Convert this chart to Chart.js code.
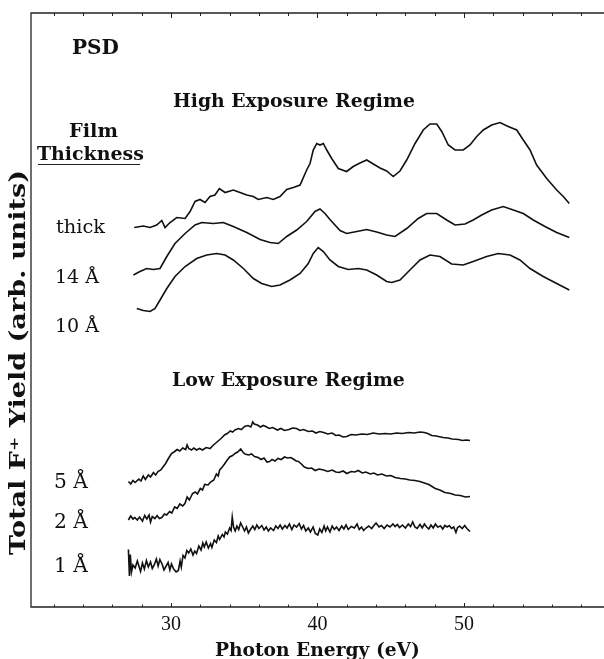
<!DOCTYPE html>
<html>
<head>
<meta charset="utf-8">
<script src="https://cdn.jsdelivr.net/npm/chart.js@4"></script>
<style>
  html, body { margin: 0; padding: 0; background: #fff; }
  #wrap { width: 604px; height: 659px; }
</style>
</head>
<body>
<div id="wrap"><canvas id="myChart" width="604" height="659"></canvas></div>
<script>
// photon energy (eV) and yield (arb. units) for each trace
const thickE = [27.49,28.11,28.57,29.02,29.37,29.59,29.93,30.39,30.96,31.30,31.64,31.98,32.32,32.66,33.00,33.30,33.69,34.25,34.71,35.17,35.62,35.96,36.53,36.98,37.44,37.90,38.35,38.81,39.26,39.49,39.71,39.95,40.17,40.40,40.63,40.97,41.42,41.99,42.44,42.90,43.36,43.81,44.27,44.72,45.17,45.63,46.09,46.66,47.22,47.68,48.14,48.48,48.93,49.39,49.95,50.41,50.87,51.32,51.89,52.46,53.02,53.60,54.05,54.51,54.96,55.65,56.33,56.78,57.19];
const thickY = [7.59,7.62,7.59,7.64,7.73,7.59,7.69,7.79,7.77,7.91,8.11,8.15,8.09,8.21,8.24,8.37,8.29,8.34,8.29,8.24,8.21,8.15,8.19,8.15,8.21,8.35,8.39,8.44,8.74,8.87,9.14,9.27,9.24,9.27,9.14,8.97,8.77,8.71,8.81,8.88,8.94,8.86,8.78,8.72,8.61,8.72,8.94,9.27,9.54,9.66,9.66,9.51,9.24,9.14,9.14,9.24,9.41,9.54,9.64,9.69,9.61,9.54,9.34,9.14,8.84,8.57,8.34,8.21,8.07];

const a14E = [27.43,27.88,28.34,28.79,29.25,29.71,30.27,30.96,31.64,32.10,32.89,33.57,34.25,35.17,36.08,36.76,37.32,37.90,38.58,39.26,39.83,40.17,40.51,40.85,41.54,41.99,42.68,43.36,44.04,44.72,45.29,46.09,46.88,47.45,48.14,48.82,49.39,50.07,50.63,51.21,51.89,52.68,53.37,54.05,54.73,55.53,56.33,57.19];
const a14Y = [6.64,6.71,6.77,6.75,6.77,7.01,7.27,7.47,7.64,7.69,7.67,7.69,7.61,7.49,7.35,7.29,7.27,7.41,7.54,7.71,7.91,7.96,7.87,7.75,7.53,7.47,7.51,7.55,7.50,7.44,7.41,7.57,7.77,7.87,7.87,7.74,7.64,7.66,7.74,7.84,7.94,8.01,7.94,7.87,7.74,7.61,7.49,7.39];

const a10E = [27.66,28.11,28.57,28.91,29.25,29.71,30.27,30.96,31.75,32.44,33.12,33.69,34.25,34.94,35.62,36.19,36.87,37.44,38.12,38.81,39.37,39.71,40.05,40.40,40.85,41.42,42.10,42.79,43.36,44.04,44.72,45.07,45.63,46.31,47.00,47.68,48.36,49.16,49.95,50.63,51.55,52.34,53.14,53.82,54.51,55.41,56.33,57.19];
const a10Y = [5.97,5.93,5.91,5.97,6.14,6.37,6.61,6.81,6.97,7.04,7.07,7.04,6.94,6.77,6.57,6.47,6.41,6.44,6.54,6.67,6.87,7.07,7.19,7.11,6.94,6.81,6.75,6.77,6.74,6.64,6.51,6.49,6.54,6.74,6.94,7.04,7.01,6.86,6.84,6.91,7.01,7.07,7.04,6.94,6.77,6.61,6.47,6.34];

const a5E = [27.09,27.25,27.40,27.55,27.80,27.95,28.10,28.25,28.45,28.60,28.80,28.95,29.11,29.30,29.45,29.63,29.80,30.03,30.20,30.42,30.60,30.80,31.00,31.10,31.21,31.40,31.55,31.74,31.95,32.15,32.40,32.66,32.90,33.18,33.45,33.65,33.84,34.05,34.20,34.37,34.60,34.80,35.02,35.25,35.45,35.58,35.68,35.90,36.10,36.30,36.47,36.70,36.95,37.26,37.50,37.75,38.05,38.30,38.57,38.80,39.05,39.37,39.65,39.90,40.15,40.42,40.70,41.00,41.25,41.47,41.75,41.99,42.30,42.60,43.04,43.40,43.80,44.20,44.62,45.00,45.40,45.80,46.20,46.60,47.00,47.30,47.52,47.80,48.10,48.57,48.90,49.20,49.62,49.90,50.15,50.41];
const a5Y = [2.51,2.46,2.53,2.49,2.56,2.52,2.62,2.55,2.64,2.60,2.69,2.64,2.71,2.74,2.80,2.87,2.96,3.07,3.10,3.15,3.12,3.18,3.15,3.24,3.17,3.14,3.18,3.14,3.17,3.14,3.19,3.17,3.24,3.31,3.38,3.44,3.47,3.52,3.50,3.54,3.57,3.55,3.61,3.63,3.60,3.70,3.66,3.64,3.60,3.63,3.61,3.57,3.59,3.54,3.57,3.53,3.55,3.58,3.57,3.53,3.55,3.51,3.52,3.48,3.51,3.49,3.46,3.48,3.43,3.44,3.40,3.41,3.45,3.44,3.46,3.45,3.48,3.46,3.47,3.46,3.48,3.47,3.49,3.48,3.50,3.49,3.47,3.43,3.42,3.39,3.38,3.36,3.35,3.33,3.34,3.33];

const a2E = [27.09,27.25,27.40,27.53,27.70,27.85,28.05,28.20,28.35,28.50,28.60,28.72,28.90,29.05,29.20,29.37,29.55,29.70,29.90,30.05,30.25,30.42,30.60,30.80,30.95,31.10,31.25,31.47,31.65,31.80,32.00,32.15,32.30,32.53,32.70,32.92,33.10,33.22,33.32,33.50,33.65,33.84,34.00,34.20,34.37,34.55,34.76,34.90,35.05,35.29,35.50,35.70,35.95,36.15,36.35,36.55,36.73,36.90,37.10,37.30,37.52,37.75,37.95,38.18,38.40,38.55,38.70,38.90,39.10,39.37,39.60,39.85,40.10,40.42,40.70,41.00,41.25,41.47,41.75,42.00,42.30,42.55,42.78,43.05,43.30,43.60,43.85,44.10,44.40,44.70,45.00,45.30,45.67,46.00,46.30,46.65,46.99,47.30,47.60,48.04,48.35,48.70,49.09,49.40,49.75,50.10,50.41];
const a2Y = [1.74,1.82,1.76,1.79,1.74,1.80,1.72,1.83,1.76,1.84,1.70,1.81,1.77,1.83,1.77,1.79,1.86,1.84,1.91,1.88,2.00,1.97,2.06,2.02,2.07,2.20,2.14,2.27,2.30,2.26,2.37,2.34,2.45,2.44,2.50,2.54,2.66,2.62,2.74,2.80,2.86,2.94,3.00,3.03,3.07,3.10,3.16,3.10,3.06,3.04,3.06,3.01,2.99,2.95,2.98,2.90,2.91,2.95,2.92,2.97,2.95,3.00,2.98,2.99,2.95,2.92,2.91,2.86,2.80,2.77,2.78,2.73,2.76,2.74,2.71,2.74,2.70,2.69,2.72,2.67,2.71,2.70,2.73,2.68,2.70,2.66,2.68,2.64,2.66,2.62,2.63,2.59,2.57,2.56,2.54,2.53,2.51,2.48,2.45,2.37,2.34,2.29,2.27,2.24,2.23,2.20,2.21];

const a1E = [27.09,27.16,27.22,27.30,27.40,27.55,27.70,27.92,28.05,28.18,28.32,28.45,28.60,28.72,28.85,29.00,29.12,29.24,29.40,29.52,29.63,29.80,29.92,30.03,30.18,30.35,30.50,30.62,30.70,30.82,30.95,31.08,31.21,31.35,31.50,31.62,31.74,31.90,32.05,32.17,32.27,32.40,32.55,32.70,32.79,32.95,33.10,33.22,33.32,33.50,33.62,33.71,33.85,34.00,34.10,34.18,34.27,34.38,34.50,34.62,34.75,34.89,35.02,35.15,35.28,35.42,35.58,35.72,35.86,36.00,36.20,36.35,36.50,36.65,36.80,37.00,37.15,37.30,37.45,37.60,37.78,37.92,38.08,38.25,38.40,38.57,38.75,38.90,39.05,39.20,39.37,39.52,39.70,39.85,40.02,40.15,40.30,40.45,40.56,40.68,40.85,41.00,41.15,41.30,41.47,41.65,41.80,41.95,42.10,42.30,42.52,42.70,42.85,43.00,43.15,43.31,43.50,43.70,43.85,44.00,44.20,44.36,44.55,44.75,44.95,45.15,45.30,45.45,45.60,45.80,46.00,46.20,46.35,46.50,46.65,46.80,47.00,47.15,47.30,47.45,47.60,47.75,47.90,48.05,48.20,48.40,48.55,48.70,48.85,49.00,49.15,49.30,49.45,49.55,49.70,49.88,50.05,50.20,50.41];
const a1Y = [1.15,0.62,1.05,0.70,0.84,0.78,0.92,0.71,0.88,0.76,0.93,0.80,0.90,0.77,0.84,0.96,0.82,0.95,0.85,0.74,0.80,0.89,0.74,0.86,0.76,0.70,0.73,0.92,0.80,1.03,0.98,1.13,1.08,1.16,1.04,1.12,1.07,1.22,1.14,1.28,1.20,1.30,1.18,1.27,1.19,1.34,1.29,1.42,1.35,1.45,1.40,1.50,1.46,1.58,1.53,1.80,1.60,1.52,1.62,1.55,1.68,1.60,1.52,1.60,1.48,1.55,1.62,1.55,1.64,1.57,1.63,1.54,1.60,1.52,1.58,1.53,1.62,1.57,1.64,1.56,1.63,1.58,1.66,1.55,1.64,1.60,1.67,1.56,1.63,1.52,1.58,1.50,1.60,1.47,1.44,1.56,1.49,1.62,1.52,1.60,1.50,1.62,1.55,1.60,1.53,1.62,1.56,1.64,1.55,1.61,1.58,1.66,1.55,1.60,1.53,1.58,1.62,1.57,1.63,1.68,1.60,1.63,1.57,1.64,1.60,1.66,1.61,1.65,1.59,1.64,1.58,1.66,1.61,1.70,1.60,1.57,1.65,1.58,1.66,1.60,1.56,1.64,1.58,1.66,1.60,1.62,1.56,1.63,1.60,1.63,1.57,1.60,1.49,1.58,1.62,1.57,1.63,1.57,1.51];

const xTickLabels = [30, 40, 50];
const xMinorTicks = [22,24,26,28,32,34,36,38,42,44,46,48,52,54,56,58];

const series = [
    [thickE, thickY], [a14E, a14Y], [a10E, a10Y],
    [a5E, a5Y], [a2E, a2Y], [a1E, a1Y]
];

const toPoints = (xs, ys) => xs.map((x, i) => ({x: x, y: ys[i]}));

// draw text scaled so that it fills a given width
function fitText(ctx, str, x, y, width, weight, family){
    ctx.font = `${weight} 20px ${family}`;
    const w = ctx.measureText(str).width;
    const size = 20 * width / w;
    ctx.font = `${weight} ${size.toFixed(2)}px ${family}`;
    ctx.fillText(str, x, y);
}

// same, but keep the font size and stretch along the line instead
function stretchText(ctx, str, x, y, width, font){
    ctx.font = font;
    const w = ctx.measureText(str).width;
    ctx.save();
    ctx.translate(x, y);
    ctx.scale(width / w, 1);
    ctx.fillText(str, 0, 0);
    ctx.restore();
}

const SERIF = '"DejaVu Serif"';

const framePlugin = {
    id: 'frame',
    afterDraw(chart){
        const ctx = chart.ctx;
        const area = chart.chartArea;
        const xs = chart.scales.x;
        ctx.save();
        ctx.strokeStyle = '#222';
        ctx.lineWidth = 1.3;
        ctx.beginPath();
        ctx.moveTo(area.right + 2, area.top);
        ctx.lineTo(area.left, area.top);
        ctx.lineTo(area.left, area.bottom);
        ctx.lineTo(area.right + 2, area.bottom);
        ctx.stroke();

        // ticks on bottom and top edges, pointing inward
        ctx.lineWidth = 1;
        ctx.beginPath();
        xMinorTicks.forEach(v => {
            const px = Math.round(xs.getPixelForValue(v)) + 0.5;
            ctx.moveTo(px, area.bottom); ctx.lineTo(px, area.bottom - 2.5);
            ctx.moveTo(px, area.top); ctx.lineTo(px, area.top + 3);
        });
        xTickLabels.forEach(v => {
            const px = Math.round(xs.getPixelForValue(v)) + 0.5;
            ctx.moveTo(px, area.bottom); ctx.lineTo(px, area.bottom - 4);
            ctx.moveTo(px, area.top); ctx.lineTo(px, area.top + 5);
        });
        ctx.stroke();

        ctx.fillStyle = '#111';
        ctx.textBaseline = 'alphabetic';
        ctx.textAlign = 'center';
        xTickLabels.forEach(v => {
            const px = xs.getPixelForValue(v);
            ctx.font = '20px "Liberation Serif"';
            ctx.fillText(String(v), px, 630);
        });
        ctx.textAlign = 'left';
        fitText(ctx, 'Photon Energy (eV)', 215, 656, 205, 'bold', SERIF);

        // y axis title
        ctx.save();
        ctx.translate(25, 555);
        ctx.rotate(-Math.PI / 2);
        stretchText(ctx, 'Total F\u207A Yield (arb. units)', 0, 0, 385, `bold 21.5px ${SERIF}`);
        ctx.restore();

        // annotations
        fitText(ctx, 'PSD', 72, 54, 47, 'bold', SERIF);
        fitText(ctx, 'High Exposure Regime', 173, 107, 242, 'bold', SERIF);
        fitText(ctx, 'Film', 69, 137, 49, 'bold', SERIF);
        fitText(ctx, 'Thickness', 37, 160, 107, 'bold', SERIF);
        ctx.lineWidth = 1.2;
        ctx.beginPath();
        ctx.moveTo(38, 164.5); ctx.lineTo(140, 164.5);
        ctx.stroke();
        fitText(ctx, 'thick', 56, 233, 49, 'normal', SERIF);
        fitText(ctx, '14 \u00C5', 55, 283, 44, 'normal', SERIF);
        fitText(ctx, '10 \u00C5', 55, 332, 44, 'normal', SERIF);
        fitText(ctx, 'Low Exposure Regime', 172, 386, 233, 'bold', SERIF);
        fitText(ctx, '5 \u00C5', 54, 488, 34, 'normal', SERIF);
        fitText(ctx, '2 \u00C5', 54, 528, 34, 'normal', SERIF);
        fitText(ctx, '1 \u00C5', 54, 572, 34, 'normal', SERIF);
        ctx.restore();
    }
};

const ctx = document.getElementById('myChart');
const myChart = new Chart(ctx, {
    type: 'line',
    data: {
        datasets: series.map(s => ({
            data: toPoints(s[0], s[1]),
            borderColor: '#111',
            borderWidth: 1.6,
            pointRadius: 0,
            tension: 0,
            fill: false
        }))
    },
    options: {
        responsive: false,
        animation: false,
        layout: { padding: { left: 31, top: 13, right: 0, bottom: 52 } },
        plugins: { legend: { display: false }, tooltip: { enabled: false } },
        scales: {
            x: { type: 'linear', min: 20.44, max: 59.56, display: false },
            y: { type: 'linear', min: 0, max: 11.88, display: false }
        }
    },
    plugins: [framePlugin]
});
</script>
</body>
</html>
